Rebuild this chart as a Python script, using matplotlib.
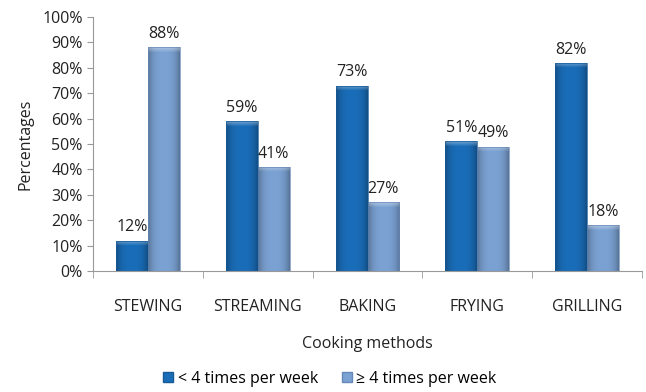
import matplotlib
matplotlib.use("Agg")
import matplotlib.pyplot as plt
from matplotlib.ticker import MultipleLocator, FuncFormatter
from matplotlib.patches import Patch
from matplotlib.colors import to_rgb
import numpy as np

categories = ["STEWING", "STREAMING", "BAKING", "FRYING", "GRILLING"]
less_than_4 = [12, 59, 73, 51, 82]
at_least_4 = [88, 41, 27, 49, 18]
series_labels = ["< 4 times per week", "\u2265 4 times per week"]

dark_blue = "#1A6DB8"
light_blue = "#7BA2D3"

plt.rcParams["font.family"] = ["Open Sans", "DejaVu Sans"]

fig = plt.figure(figsize=(6.46, 3.92), dpi=100)
ax = fig.add_axes([93 / 646, 1 - 271 / 392, (642 - 93) / 646, (271 - 17) / 392])


def shade_bar(rect, base):
    """Paint a bevelled, cylinder-like gradient inside a bar."""
    base = np.array(to_rgb(base))
    h_px = max(1.0, rect.get_height() / 100 * 254)
    nx, ny = 40, max(2, int(round(h_px)))
    u = np.linspace(-1, 1, nx)
    side = 1 - 0.28 * np.abs(u) ** 3
    img = np.tile(side, (ny, 1))[..., None] * base[None, None, :]
    # soft lighter rim along the top edge of the bar
    depth = np.arange(ny)[::-1]  # pixel distance from the top
    glow = np.clip(1 - depth / 5.0, 0, 1) * 0.35
    img = img * (1 - glow[:, None, None]) + glow[:, None, None]
    img = np.clip(img, 0, 1)
    x0, y0 = rect.get_x(), rect.get_y()
    im = ax.imshow(img, extent=[x0, x0 + rect.get_width(), y0, y0 + rect.get_height()],
                   origin="lower", aspect="auto", interpolation="bilinear", zorder=2)
    im.set_clip_path(rect)
    rect.set_facecolor("none")


x = np.arange(len(categories))
w = 0.29
b1 = ax.bar(x - w / 2, less_than_4, w, color=dark_blue, edgecolor="#165A98", linewidth=0.5, zorder=3)
b2 = ax.bar(x + w / 2, at_least_4, w, color=light_blue, edgecolor="#6688B8", linewidth=0.5, zorder=3)
for r in b1:
    shade_bar(r, dark_blue)
for r in b2:
    shade_bar(r, light_blue)

for bars, vals in ((b1, less_than_4), (b2, at_least_4)):
    for rect, v in zip(bars, vals):
        ax.text(rect.get_x() + rect.get_width() / 2, v + 2, f"{v}%",
                ha="center", va="bottom", fontsize=11.5, color="#222222")

ax.set_xlim(-0.5, len(categories) - 0.5)
ax.set_ylim(0, 100)
ax.yaxis.set_major_locator(MultipleLocator(10))
ax.yaxis.set_major_formatter(FuncFormatter(lambda v, _: f"{int(v)}%"))
ax.set_xticks(x)
ax.set_xticklabels(categories)
ax.set_xticks(np.arange(-0.5, len(categories)), minor=True)
ax.tick_params(axis="x", which="major", length=0, pad=20, labelsize=11.5, colors="#222222")
ax.tick_params(axis="x", which="minor", length=5, color="#999999")
ax.tick_params(axis="y", length=4, color="#999999", labelsize=11.5, labelcolor="#222222")

for side in ("top", "right"):
    ax.spines[side].set_visible(False)
for side in ("left", "bottom"):
    ax.spines[side].set_color("#999999")

ax.set_ylabel("Percentages", fontsize=11.5, color="#222222", labelpad=6)
ax.set_xlabel("Cooking methods", fontsize=11.5, color="#222222", labelpad=15)

handles = [Patch(facecolor=dark_blue, edgecolor="#165A98"),
           Patch(facecolor=light_blue, edgecolor="#6688B8")]
fig.legend(handles, series_labels, loc="center", bbox_to_anchor=(330 / 646, 1 - 379 / 392),
           ncol=2, frameon=False, fontsize=11.5, handlelength=0.6, handleheight=0.6,
           handletextpad=0.3, columnspacing=1.5)

fig.savefig("out.png", dpi=100)
